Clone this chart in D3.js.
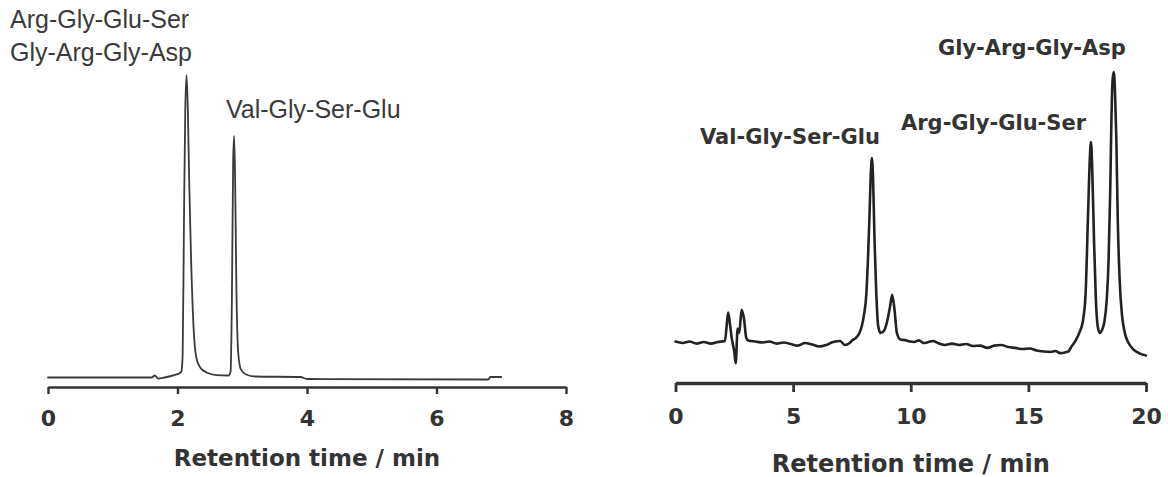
<!DOCTYPE html>
<html>
<head>
<meta charset="utf-8">
<script src="https://cdn.jsdelivr.net/npm/d3@7"></script>
<style>
  body { margin: 0; background: #fff; }
  svg { display: block; }
  .trace { fill: none; stroke-linejoin: round; stroke-linecap: round; }
  .axis path, .axis line { stroke: #333; }
  .axis text { font-family: "DejaVu Sans", Verdana, sans-serif; font-weight: bold; fill: #333; }
  .xtitle { font-family: "DejaVu Sans", Verdana, sans-serif; font-weight: bold; fill: #333; }
</style>
</head>
<body>
<svg id="chart" width="1168" height="477"></svg>
<script>
// left chromatogram (0-8 min), signal in arbitrary units
var leftTime = [0, 1.6, 1.65, 1.7, 1.8, 1.95, 2.04, 2.06, 2.08, 2.10, 2.12, 2.14, 2.16, 2.18, 2.21, 2.25, 2.29,
  2.35, 2.45, 2.6, 2.79, 2.82, 2.84, 2.86, 2.875, 2.89, 2.91, 2.94, 2.98, 3.06, 3.2, 3.9, 4.0, 6.8, 6.83, 7.0];
var leftSignal = [0, 0, 0.66, -0.4, 0, 0.8, 1.5, 2.0, 7.6, 52, 88.4, 100, 88.4, 65.3, 39, 15.8, 6.6,
  3.3, 1.65, 0.8, 0.66, 2.0, 25.7, 72, 79.9, 65.3, 29, 7.6, 2.6, 1.0, 0.33, 0.17, -0.5, -0.66, 0.17, 0.17];

// right chromatogram (0-20 min)
var rightTime = [0, 0.3, 0.6, 0.9, 1.2, 1.5, 1.8, 2.10, 2.19, 2.24, 2.32, 2.39, 2.50, 2.56, 2.64, 2.71, 2.81, 2.91,
  3.01, 3.09, 3.4, 3.7, 4.0, 4.3, 4.6, 4.9, 5.2, 5.5, 5.8, 6.1, 6.4, 6.7, 7.0, 7.2, 7.4, 7.52, 7.66, 7.82,
  7.92, 8.01, 8.11, 8.18, 8.24, 8.30, 8.35, 8.40, 8.46, 8.53, 8.61, 8.71, 8.86, 9.01, 9.11, 9.21, 9.31,
  9.41, 9.56, 9.76, 9.96, 10.15, 10.35, 10.55, 10.75, 10.95, 11.15, 11.45, 11.75, 12.05, 12.35, 12.65,
  12.95, 13.25, 13.55, 13.85, 14.15, 14.45, 14.75, 15.05, 15.35, 15.65, 15.95, 16.15, 16.35, 16.55, 16.72,
  16.82, 17.02, 17.16, 17.31, 17.43, 17.53, 17.61, 17.66, 17.71, 17.79, 17.87, 17.96, 18.04, 18.13, 18.23,
  18.33, 18.41, 18.48, 18.53, 18.58, 18.63, 18.68, 18.74, 18.80, 18.88, 18.98, 19.10, 19.26, 19.45, 19.70, 20.0];
var rightSignal = [6.4, 5.9, 6.4, 5.7, 6.25, 5.7, 6.25, 6.6, 13.2, 16.5, 12.15, 7.6, 2.8, -1.15, 10.9, 9.4, 17.4, 14.4,
  7.6, 6.8, 6.4, 6.1, 6.4, 5.7, 6.1, 5.55, 5.0, 5.9, 5.4, 4.7, 5.2, 6.25, 6.6, 5.2, 5.9, 6.9, 7.6, 9.4,
  11.8, 15.6, 22.6, 34.7, 48.6, 64.2, 70.1, 62.5, 41.7, 24.3, 12.15, 9.4, 10.1, 13.9, 18.1, 22.6, 17.4,
  9.4, 7.1, 6.9, 6.4, 6.25, 6.8, 5.9, 6.25, 6.6, 5.9, 5.2, 5.7, 5.2, 5.55, 4.85,
  5.0, 4.2, 5.0, 5.2, 4.5, 4.2, 3.8, 4.0, 3.3, 2.95, 2.8, 3.1, 2.4, 2.6, 3.1,
  4.5, 6.9, 9.4, 13.2, 22.6, 48.6, 69.4, 75.7, 67.7, 41.7, 20.8, 11.1, 9.4, 10.4, 13.2,
  20.8, 34.7, 59.0, 83.3, 97.2, 100, 93.75, 76.4, 48.6, 27.8, 15.6, 9.4, 5.9, 3.8, 2.4, 1.55];

var leftTicks = [0, 2, 4, 6, 8];
var rightTicks = [0, 5, 10, 15, 20];
var leftLabels = ["Arg-Gly-Glu-Ser", "Gly-Arg-Gly-Asp", "Val-Gly-Ser-Glu"];
var rightLabels = ["Val-Gly-Ser-Glu", "Arg-Gly-Glu-Ser", "Gly-Arg-Gly-Asp"];
var axisTitle = "Retention time / min";

const svg = d3.select("#chart");

function panel(opt) {
  const x = d3.scaleLinear().domain(opt.xDomain).range(opt.xRange);
  const y = d3.scaleLinear().domain([0, 100]).range(opt.yRange);
  const pts = opt.time.map((t, i) => [t, opt.signal[i]]);

  svg.append("path")
    .datum(pts)
    .attr("class", "trace")
    .attr("stroke", opt.color)
    .attr("stroke-width", opt.lineWidth)
    .attr("d", d3.line().x(d => x(d[0])).y(d => y(d[1])).curve(d3.curveMonotoneX));

  const ax = svg.append("g")
    .attr("class", "axis")
    .attr("transform", `translate(0,${opt.axisY})`)
    .call(d3.axisBottom(x).tickValues(opt.ticks).tickSize(opt.tickSize).tickSizeOuter(0).tickPadding(opt.tickPad));
  ax.select(".domain").attr("stroke-width", opt.axisWidth);
  ax.selectAll(".tick line").attr("stroke-width", opt.tickWidth);
  ax.selectAll(".tick text").style("font-size", opt.tickFont + "px");

  svg.append("text")
    .attr("class", "xtitle")
    .attr("x", x(d3.mean(opt.xDomain)))
    .attr("y", opt.titleY)
    .attr("text-anchor", "middle")
    .style("font-size", opt.titleFont + "px")
    .text(axisTitle);
  return x;
}

panel({
  time: leftTime, signal: leftSignal, ticks: leftTicks,
  xDomain: [0, 8], xRange: [48, 566], yRange: [377.5, 75],
  color: "#3a3a3a", lineWidth: 1.8,
  axisY: 387, axisWidth: 2.6, tickWidth: 2.4, tickSize: 7, tickPad: 16, tickFont: 22,
  titleY: 466, titleFont: 23
});

panel({
  time: rightTime, signal: rightSignal, ticks: rightTicks,
  xDomain: [0, 20], xRange: [675.5, 1146], yRange: [360, 72],
  color: "#222", lineWidth: 2.6,
  axisY: 383, axisWidth: 3.5, tickWidth: 2.8, tickSize: 9, tickPad: 16, tickFont: 22,
  titleY: 472, titleFont: 24
});

// peak annotations
const leftPos = [[10, 28], [10, 61], [226, 118]];
svg.selectAll(".lab-left")
  .data(leftLabels)
  .enter().append("text")
    .attr("class", "lab-left")
    .attr("x", (d, i) => leftPos[i][0])
    .attr("y", (d, i) => leftPos[i][1])
    .style("font-family", "'Liberation Sans', Arial, sans-serif")
    .style("font-size", "25px")
    .style("fill", "#3a3a3a")
    .text(d => d);

const rightPos = [[700, 144], [901, 130], [938, 55]];
svg.selectAll(".lab-right")
  .data(rightLabels)
  .enter().append("text")
    .attr("class", "lab-right")
    .attr("x", (d, i) => rightPos[i][0])
    .attr("y", (d, i) => rightPos[i][1])
    .style("font-family", "'DejaVu Sans', Verdana, sans-serif")
    .style("font-weight", "bold")
    .style("font-size", "21px")
    .style("fill", "#333")
    .text(d => d);
</script>
</body>
</html>
